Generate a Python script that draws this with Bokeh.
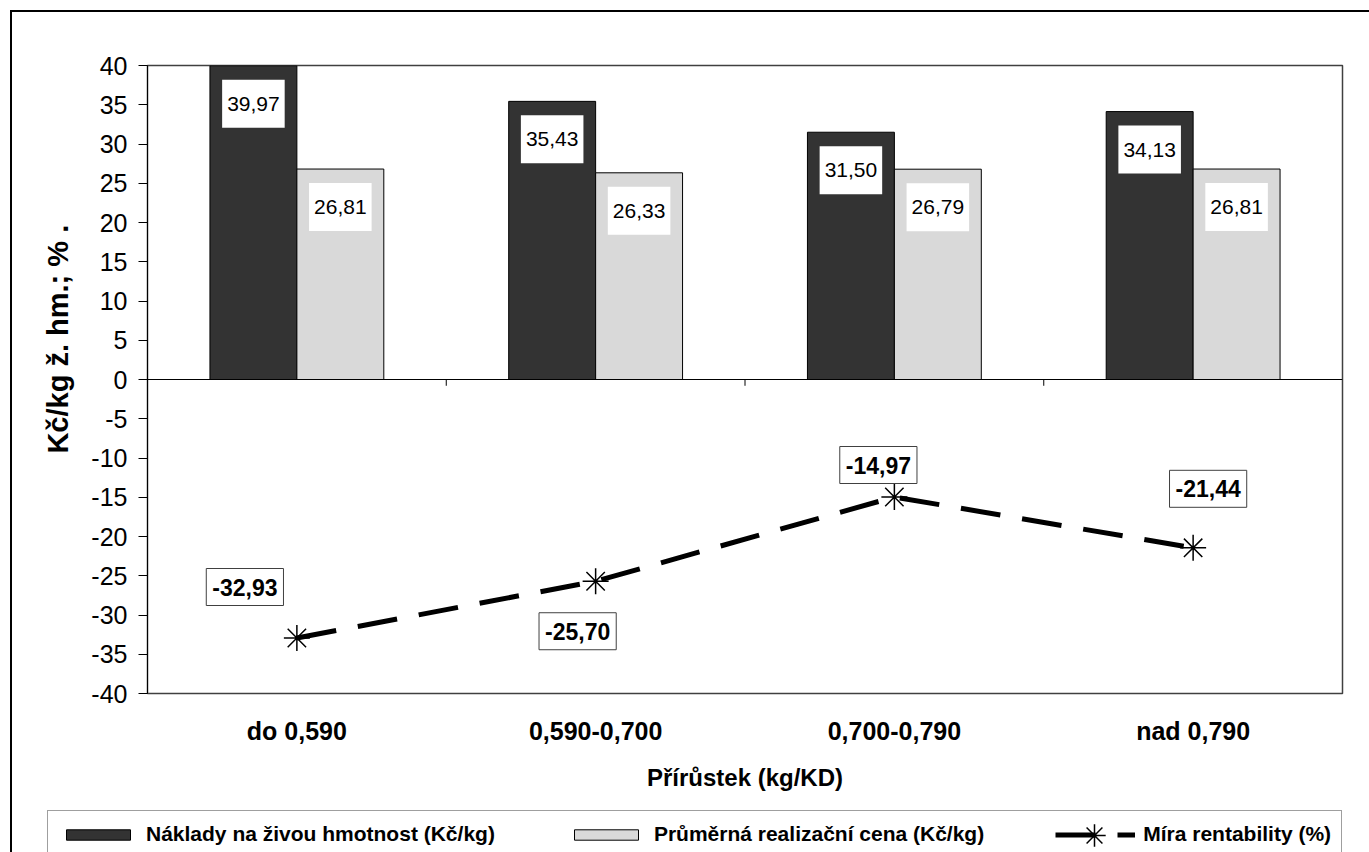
from bokeh.plotting import figure
from bokeh.layouts import column
from bokeh.models import Range1d, FixedTicker, Label, Legend, LegendItem, Span
from bokeh.embed import file_html
from bokeh.resources import INLINE

# ---- data ----
categories = ["do 0,590", "0,590-0,700", "0,700-0,790", "nad 0,790"]
naklady = [39.97, 35.43, 31.50, 34.13]
cena = [26.81, 26.33, 26.79, 26.81]
rentabilita = [-32.93, -25.70, -14.97, -21.44]
series_names = ["Náklady na živou hmotnost (Kč/kg)",
                "Průměrná realizační cena (Kč/kg)",
                "Míra rentability (%)"]
y_title = "Kč/kg ž. hm.; % ."
x_title = "Přírůstek (kg/KD)"
y_ticks = list(range(-40, 45, 5))

# ---- style ----
FONT = "Liberation Sans"
DARK = "#333333"
LIGHT = "#d9d9d9"
BAR_W = 0.291
line_label_offsets = [(-52, 51), (-18, -50), (-16, 32), (15, 59)]

OFF = 12                 # outer chart frame: 10px margin + 2px border
W = 1369 - OFF
LEG_TOP = 809            # page y of legend strip top
H_MAIN = LEG_TOP - OFF
H_LEG = 852 - LEG_TOP

def fmt(v):
    return f"{v:.2f}".replace(".", ",")

p = figure(width=W, height=H_MAIN, x_range=Range1d(0, len(categories)), y_range=Range1d(-40, 40),
           output_backend="svg", toolbar_location=None,
           min_border_left=147 - OFF, min_border_right=1369 - 1342, min_border_top=65 - OFF,
           min_border_bottom=H_MAIN - (693 - OFF))
p.xgrid.visible = False
p.ygrid.visible = False
p.outline_line_color = "#404040"
p.outline_line_width = 1.5
p.background_fill_color = "white"
p.border_fill_color = "white"

# y axis
ya = p.yaxis[0]
ya.ticker = FixedTicker(ticks=y_ticks)
ya.major_label_overrides = {t: str(t) for t in y_ticks}
ya.major_label_text_font = FONT
ya.major_label_text_font_size = "25px"
ya.major_label_text_color = "black"
ya.major_tick_out = 9
ya.major_tick_in = 0
ya.minor_tick_out = 0
ya.minor_tick_in = 0
ya.axis_line_color = "black"
ya.major_tick_line_color = "black"
ya.major_label_standoff = 11
# leading no-break spaces lift the (rotated) title a little above the frame centre, as in the original
ya.axis_label = "\u00a0" * 10 + y_title
ya.axis_label_text_font = FONT
ya.axis_label_text_font_style = "bold"
ya.axis_label_text_font_size = "29px"
ya.axis_label_text_color = "black"
ya.axis_label_standoff = 14

# x axis (labels at the bottom)
centers = [i + 0.5 for i in range(len(categories))]
xa = p.xaxis[0]
xa.ticker = FixedTicker(ticks=centers)
xa.major_label_overrides = {c: cat for c, cat in zip(centers, categories)}
xa.axis_line_color = None
xa.major_tick_out = 0
xa.major_tick_in = 0
xa.minor_tick_out = 0
xa.minor_tick_in = 0
xa.major_label_text_font = FONT
xa.major_label_text_font_size = "25px"
xa.major_label_text_font_style = "bold"
xa.major_label_text_color = "black"
xa.major_label_standoff = 23
xa.axis_label = x_title
xa.axis_label_text_font = FONT
xa.axis_label_text_font_style = "bold"
xa.axis_label_text_font_size = "24px"
xa.axis_label_text_color = "black"
xa.axis_label_standoff = 16

# category axis at zero
p.add_layout(Span(location=0, dimension="width", line_color="black", line_width=1))
bounds = list(range(1, len(categories)))
p.segment(x0=bounds, y0=[0] * len(bounds), x1=bounds, y1=[-0.8] * len(bounds),
          line_color="black", line_width=1)

# bars
x_dark = [c - BAR_W / 2 for c in centers]
x_light = [c + BAR_W / 2 for c in centers]
bar1 = dict(fill_color=DARK, line_color="black", line_width=1)
bar2 = dict(fill_color=LIGHT, line_color="black", line_width=1)
line_style = dict(line_color="black", line_width=5, line_dash="40 22")
marker_style = dict(marker="asterisk", size=26, line_color="black", line_width=1.5)

p.vbar(x=x_dark, top=naklady, bottom=0, width=BAR_W, **bar1)
p.vbar(x=x_light, top=cena, bottom=0, width=BAR_W, **bar2)
p.line(x=centers, y=rentabilita, **line_style)
p.scatter(x=centers, y=rentabilita, **marker_style)

# bar labels
for xs, vals in ((x_dark, naklady), (x_light, cena)):
    for x, v in zip(xs, vals):
        p.add_layout(Label(x=x, y=v, y_offset=-38, text=fmt(v), text_align="center", text_baseline="middle",
                           text_font=FONT, text_font_size="21px", text_color="black",
                           background_fill_color="white", padding=(5, 17)))
for x, v, (dx, dy) in zip(centers, rentabilita, line_label_offsets):
    p.add_layout(Label(x=x, y=v, x_offset=dx, y_offset=dy, text=fmt(v), text_align="center",
                       text_baseline="middle", text_font=FONT, text_font_size="23px",
                       text_font_style="bold", text_color="black",
                       background_fill_color="white", border_line_color="#404040", border_line_width=1,
                       padding=(6, 10)))

# ---- legend strip (separate figure under the chart; its view range shows none of the data) ----
lf = figure(width=W, height=H_LEG, x_range=Range1d(-10, -9), y_range=Range1d(100, 101),
            output_backend="svg", toolbar_location=None, x_axis_type=None, y_axis_type=None,
            min_border=0, min_border_left=0, min_border_right=0, min_border_top=0, min_border_bottom=0)
try:
    lf.frame_align = False
    p.frame_align = False
except Exception:
    pass
lf.xgrid.visible = False
lf.ygrid.visible = False
lf.outline_line_color = None
lf.background_fill_color = "white"
lf.border_fill_color = "white"
g1 = lf.vbar(x=x_dark, top=naklady, bottom=0, width=BAR_W, **bar1)
g2 = lf.vbar(x=x_light, top=cena, bottom=0, width=BAR_W, **bar2)
g3 = lf.line(x=centers, y=rentabilita, **line_style)
g4 = lf.scatter(x=centers, y=rentabilita, **marker_style)

GLYPH_W, PAD, STAND, SPACING, LBL_PX, LH = 80, 10, 8, 71, 21, 26
LEG_H = 2 * PAD + LH
TOP_IN = 3               # legend box top, px below the strip top
legend = Legend(items=[LegendItem(label=series_names[0], renderers=[g1], index=0),
                       LegendItem(label=series_names[1], renderers=[g2], index=0),
                       LegendItem(label=series_names[2], renderers=[g3], index=0)],
                orientation="horizontal", location=(47 - OFF, H_LEG - TOP_IN - LEG_H),
                glyph_width=GLYPH_W, glyph_height=13, label_height=LH, label_standoff=STAND,
                spacing=SPACING, padding=PAD,
                label_text_font=FONT, label_text_font_size=f"{LBL_PX}px", label_text_font_style="bold",
                label_text_color="black", border_line_color="#404040", border_line_width=1,
                background_fill_color="white", background_fill_alpha=1.0, margin=0)
lf.add_layout(legend)

# full-size asterisk on the line's legend sample (Bokeh scales legend markers to the glyph box)
em = {"Náklady na živou hmotnost (Kč/kg)": 16.614, "Průměrná realizační cena (Kč/kg)": 15.728}
x_line_glyph = (47 - OFF) + PAD + 2 * (GLYPH_W + STAND + SPACING) + sum(em.values()) * LBL_PX
MK = 56
star_cy = H_LEG - TOP_IN - PAD - LH / 2
star_legend = Legend(items=[LegendItem(label=" ", renderers=[g4], index=0)],
                     orientation="horizontal",
                     location=(x_line_glyph + GLYPH_W / 2 - MK / 2, star_cy - MK / 2),
                     glyph_width=MK, glyph_height=MK, label_height=MK, label_standoff=0, padding=0,
                     label_text_font_size="1px", border_line_color=None, background_fill_alpha=0.0,
                     margin=0)
lf.add_layout(star_legend)

layout = column(p, lf, spacing=0)
layout.styles = {"margin-left": "10px", "margin-top": "10px",
                 "border-left": "2px solid black", "border-top": "2px solid black"}

open("out.html", "w").write(file_html(layout, INLINE))
